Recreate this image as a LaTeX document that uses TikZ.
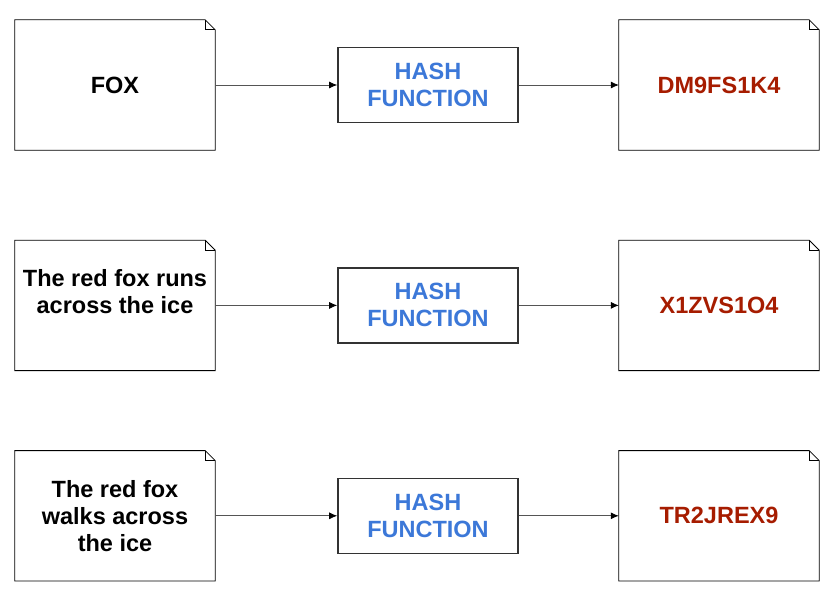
\documentclass[tikz,border=0pt]{standalone}
\usepackage{fontspec}
\setmainfont{Liberation Sans}
\usepackage{tikz}
\usetikzlibrary{positioning, arrows.meta}

\definecolor{hashblue}{HTML}{3C78D8}
\definecolor{hashred}{HTML}{A61C00}
\definecolor{edgegray}{HTML}{555555}

\begin{document}
\begin{tikzpicture}[x=1pt, y=-1pt,
    every node/.style={font=\bfseries\fontsize{23.5}{27}\selectfont, align=center},
    doc/.style={minimum width=200pt, minimum height=130pt, inner sep=0pt},
    hashbox/.style={draw=black!80, line width=1.6pt, minimum width=180pt, minimum height=75pt, inner sep=0pt, text=hashblue},
    digest/.style={doc, text=hashred},
    feed/.style={draw=edgegray, line width=0.8pt, -{Latex[length=8pt, width=7pt, color=black]}}]
    \useasboundingbox (0,0) rectangle (834,602);
    % inputs
    \node[doc] (in1) at (115,85) {FOX};
    \node[doc, below=90pt of in1] (in2) {The red fox runs\\across the ice\\~};
    \node[doc, below=80pt of in2] (in3) {The red fox\\walks across\\the ice};
    % hash functions
    \node[hashbox, right=122pt of in1] (h1) {HASH\\FUNCTION};
    \node[hashbox, right=122pt of in2] (h2) {HASH\\FUNCTION};
    \node[hashbox, right=122pt of in3] (h3) {HASH\\FUNCTION};
    % outputs
    \node[digest, right=100pt of h1] (out1) {DM9FS1K4};
    \node[digest, right=100pt of h2] (out2) {X1ZVS1O4};
    \node[digest, right=100pt of h3] (out3) {TR2JREX9};
    % folded sheets
    \foreach \n in {in1,in2,in3,out1,out2,out3} {
        \draw[line width=0.8pt] (\n.south west) -- (\n.north west) -- ([xshift=-10pt]\n.north east)
            -- ([yshift=-10pt]\n.north east) -- (\n.south east) -- cycle;
        \draw[line width=0.6pt] ([xshift=-10pt]\n.north east) -- ([xshift=-10pt, yshift=-10pt]\n.north east)
            -- ([yshift=-10pt]\n.north east);
    }
    \foreach \i in {1,2,3} {
        \draw[feed] (in\i) -- (h\i);
        \draw[feed] (h\i) -- (out\i);
    }
\end{tikzpicture}
\end{document}
